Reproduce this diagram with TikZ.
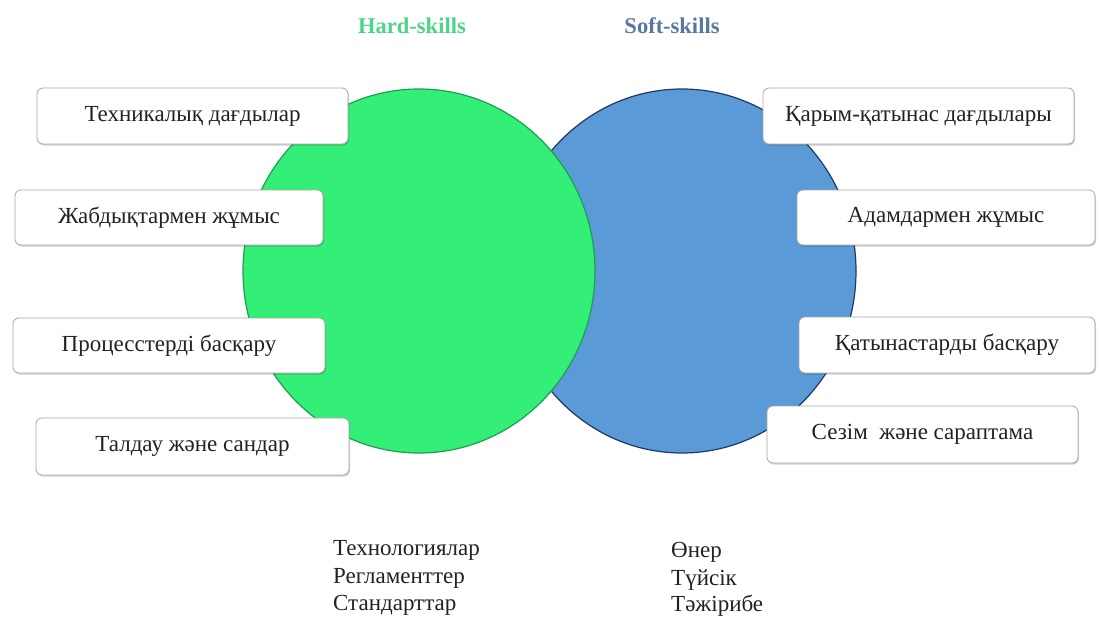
\documentclass[tikz,border=0pt]{standalone}
\usepackage{fontspec}
\setmainfont{Liberation Serif}
\usetikzlibrary{shadows}
\definecolor{hardfill}{HTML}{33EE77}
\definecolor{hardline}{HTML}{1E9E50}
\definecolor{softfill}{HTML}{5A9AD6}
\definecolor{softline}{HTML}{1F3A66}
\definecolor{hardtitle}{HTML}{4CD488}
\definecolor{softtitle}{HTML}{5878A0}
\definecolor{boxline}{HTML}{A8A8A8}
\definecolor{txt}{HTML}{222222}
\tikzset{
  skillbox/.style={draw=boxline, line width=0.8pt, fill=white, rounded corners=6pt,
    inner sep=0pt, font=\fontsize{23}{26}\selectfont, text=txt,
    drop shadow={shadow xshift=1pt, shadow yshift=-1.5pt, fill=black, opacity=0.18}},
  title/.style={font=\bfseries\fontsize{22.5}{26}\selectfont},
  listtext/.style={font=\fontsize{23}{26}\selectfont, text=txt, anchor=base west, inner sep=0pt},
}
\begin{document}
\begin{tikzpicture}[x=1pt,y=-1pt]
\useasboundingbox (0,0) rectangle (1100,618);
\fill[white] (0,0) rectangle (1100,618);
% ellipses
\draw[fill=softfill, draw=softline, line width=1.2pt] (682,271) ellipse [x radius=174, y radius=182];
\draw[fill=hardfill, draw=hardline, line width=1.2pt] (419,271) ellipse [x radius=176, y radius=182];
% titles
\node[title, text=hardtitle] (hard) at (412,26) {Hard-skills};
\node[title, text=softtitle] (soft) at (672,26) {Soft-skills};
% left boxes
\node[skillbox, minimum width=311pt, minimum height=56pt] (l1) at (192.5,116) {Техникалық дағдылар};
\node[skillbox, minimum width=308pt, minimum height=55pt] (l2) at (169,217.5) {Жабдықтармен жұмыс};
\node[skillbox, minimum width=312pt, minimum height=55pt] (l3) at (169,345.5) {Процесстерді басқару};
\node[skillbox, minimum width=313pt, minimum height=57pt] (l4) at (192.5,446.5) {Талдау және сандар};
% right boxes
\node[skillbox, minimum width=311pt, minimum height=56pt] (r1) at (918.5,116) {Қарым-қатынас дағдылары};
\node[skillbox, minimum width=298pt, minimum height=55pt] (r2) at (946,217.5) {Адамдармен жұмыс};
\node[skillbox, minimum width=296pt, minimum height=56pt] (r3) at (947,345) {Қатынастарды басқару};
\node[skillbox, minimum width=311pt, minimum height=57pt] (r4) at (922.5,434.5) {Сезім\ \ және сараптама};
% bottom lists
\node[listtext] (h1) at (333,555) {Технологиялар};
\node[listtext] (h2) at (333,583) {Регламенттер};
\node[listtext] (h3) at (333,610) {Стандарттар};
\node[listtext] (s1) at (671,557) {Өнер};
\node[listtext] (s2) at (671,585) {Түйсік};
\node[listtext] (s3) at (671,611) {Тәжірибе};
\end{tikzpicture}
\end{document}
